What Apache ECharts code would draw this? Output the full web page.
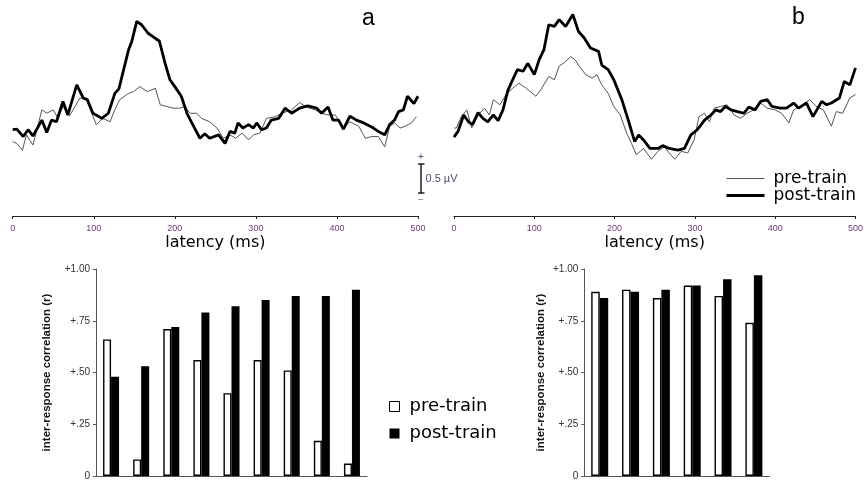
<!DOCTYPE html>
<html>
<head>
<meta charset="utf-8">
<style>html,body{margin:0;padding:0;background:#fff}#c{width:866px;height:481px}</style>
<script src="https://cdn.jsdelivr.net/npm/echarts@6/dist/echarts.min.js"></script>
</head>
<body>
<div id="c"></div>
<script>
// ---- waveform data: [latency ms, amplitude µV] ----
const aPre = [[0,1.31],[5,1.28],[12,1.16],[17,1.43],[25,1.25],[36,1.87],[42,1.81],[50,1.87],[56,1.72],[62,1.93],[70,1.76],[83,2.08],[91,2.05],[103,1.61],[111,1.72],[120,1.66],[126,1.87],[132,2.05],[143,2.16],[149,2.19],[157,2.28],[166,2.19],[176,2.25],[182,1.96],[190,1.93],[198,1.90],[206,1.90],[212,1.93],[219,1.81],[227,1.81],[233,1.72],[243,1.66],[252,1.55],[260,1.37],[268,1.43],[275,1.37],[283,1.46],[291,1.34],[297,1.43],[305,1.46],[313,1.72],[324,1.75],[332,1.81],[344,1.87],[354,2.00],[362,1.92],[373,1.87],[381,1.81],[389,1.78],[398,1.78],[408,1.55],[416,1.66],[427,1.58],[435,1.37],[443,1.40],[451,1.40],[459,1.22],[465,1.58],[471,1.64],[478,1.55],[484,1.58],[492,1.64],[498,1.75]];
const aPost = [[0,1.52],[5,1.53],[13,1.40],[19,1.52],[25,1.41],[36,1.69],[42,1.47],[48,1.69],[54,1.66],[62,2.02],[68,1.78],[79,2.31],[87,2.08],[92,2.05],[99,1.81],[110,1.72],[118,1.81],[126,2.16],[131,2.24],[143,2.93],[147,3.08],[153,3.43],[159,3.37],[167,3.22],[173,3.16],[178,3.11],[181,3.08],[188,2.69],[194,2.40],[200,2.28],[208,2.11],[215,1.81],[221,1.64],[231,1.37],[237,1.45],[243,1.37],[254,1.43],[262,1.28],[268,1.49],[274,1.46],[278,1.64],[284,1.55],[291,1.61],[297,1.55],[301,1.64],[307,1.52],[313,1.55],[319,1.69],[328,1.72],[336,1.90],[344,1.81],[354,1.90],[364,1.94],[375,1.90],[381,1.81],[389,1.92],[395,1.69],[402,1.69],[408,1.53],[416,1.76],[424,1.69],[433,1.64],[441,1.58],[445,1.55],[451,1.49],[459,1.43],[465,1.61],[471,1.69],[476,1.84],[482,1.87],[487,2.11],[495,1.98],[500,2.11]];
const bPre = [[0,1.55],[3,1.55],[9,1.75],[16,1.87],[22,1.55],[30,1.78],[38,1.90],[44,1.78],[49,2.05],[57,1.96],[65,2.14],[73,2.25],[81,2.34],[90,2.25],[102,2.11],[108,2.22],[118,2.46],[125,2.40],[131,2.64],[139,2.72],[145,2.81],[151,2.75],[155,2.66],[164,2.49],[172,2.43],[178,2.49],[184,2.31],[192,2.16],[199,1.93],[207,1.78],[215,1.46],[221,1.28],[227,1.08],[236,1.19],[246,1.00],[254,1.14],[262,1.22],[268,1.11],[275,1.00],[283,1.14],[291,1.11],[299,1.34],[305,1.75],[312,1.81],[318,1.66],[324,1.90],[332,1.93],[340,1.96],[349,1.78],[357,1.72],[365,1.81],[373,1.87],[382,1.99],[390,1.90],[400,1.87],[408,1.81],[417,1.64],[423,1.87],[431,1.93],[437,1.99],[443,2.05],[451,1.93],[460,1.87],[470,1.58],[476,1.84],[484,1.81],[493,2.08],[500,2.14]];
const bPost = [[0,1.39],[5,1.49],[12,1.78],[18,1.66],[23,1.61],[30,1.82],[36,1.72],[42,1.66],[49,1.78],[55,1.68],[61,1.87],[67,2.21],[73,2.40],[79,2.58],[86,2.55],[92,2.69],[100,2.49],[106,2.75],[112,2.93],[118,3.37],[125,3.34],[131,3.46],[139,3.34],[148,3.55],[155,3.25],[162,3.14],[170,2.96],[180,2.90],[184,2.66],[192,2.58],[199,2.40],[209,2.05],[217,1.69],[225,1.31],[230,1.43],[236,1.34],[244,1.19],[254,1.19],[260,1.24],[268,1.19],[279,1.16],[287,1.19],[295,1.43],[303,1.52],[312,1.69],[320,1.78],[326,1.87],[332,1.84],[338,1.93],[345,1.87],[353,1.84],[361,1.81],[367,1.92],[375,1.87],[382,2.02],[390,2.05],[396,1.93],[406,1.90],[414,1.90],[423,1.99],[429,1.90],[439,1.99],[447,1.75],[458,2.02],[464,1.96],[470,1.99],[480,2.08],[486,2.37],[493,2.31],[500,2.61]];

// ---- correlation bars ----
const leftCats = ['1','2','3','4','5','6','7','8','9'];
const leftPre  = [0.66, 0.08, 0.71, 0.56, 0.40, 0.56, 0.51, 0.17, 0.06];
const leftPost = [0.48, 0.53, 0.72, 0.79, 0.82, 0.85, 0.87, 0.87, 0.90];
const rightCats = ['1','2','3','4','5','6'];
const rightPre  = [0.89, 0.90, 0.86, 0.92, 0.87, 0.74];
const rightPost = [0.86, 0.89, 0.90, 0.92, 0.95, 0.97];
const latencyTicks = [0, 100, 200, 300, 400, 500];

const chart = echarts.init(document.getElementById('c'), null, {renderer: 'canvas'});

const xTop = (gi) => ({
  type: 'value', gridIndex: gi, min: latencyTicks[0], max: latencyTicks[latencyTicks.length-1], interval: 100,
  name: 'latency (ms)', nameLocation: 'middle', nameGap: 19,
  nameTextStyle: {fontFamily: 'DejaVu Sans', fontSize: 16, color: '#000'},
  axisLine: {show: true, onZero: false, lineStyle: {color: '#222', width: 1}},
  axisTick: {show: true, length: 3, lineStyle: {color: '#222'}},
  axisLabel: {fontFamily: 'Liberation Sans', fontSize: 9, color: '#6b3a7a', margin: 8},
  splitLine: {show: false}
});
const yTop = (gi) => ({type: 'value', gridIndex: gi, min: 0, max: 3.7, show: false, splitLine: {show: false}});

const yFmt = v => v === 0 ? '0' : '+' + v.toFixed(2).replace(/^0/, '');
const xBar = (gi, cats) => ({
  type: 'category', gridIndex: gi, data: cats,
  axisLine: {show: true, lineStyle: {color: '#555', width: 1}},
  axisTick: {show: false}, axisLabel: {show: false}
});
const yBar = (gi, gap) => ({
  type: 'value', gridIndex: gi, min: 0, max: 1, interval: 0.25,
  name: 'inter-response correlation (r)', nameLocation: 'middle', nameGap: gap,
  nameTextStyle: {fontFamily: 'Liberation Sans', fontSize: 11.5, fontWeight: 'bold', color: '#111'},
  axisLine: {show: true, lineStyle: {color: '#555', width: 1}},
  axisTick: {show: true, length: 3, lineStyle: {color: '#555'}},
  axisLabel: {fontFamily: 'Liberation Sans', fontSize: 10, color: '#333', margin: 6, formatter: yFmt},
  splitLine: {show: false}
});

const preLine = {color: '#555', width: 1};
const postLine = {color: '#000', width: 2.8};

chart.setOption({
  animation: false,
  backgroundColor: '#fff',
  grid: [
    {left: 12.7, top: 6, width: 405.3, height: 210},
    {left: 454, top: 6, width: 405.3, height: 210},
    {left: 96, top: 269, width: 271, height: 208},
    {left: 584.3, top: 269, width: 185, height: 208}
  ],
  xAxis: [xTop(0), xTop(1), xBar(2, leftCats), xBar(3, rightCats)],
  yAxis: [yTop(0), yTop(1), yBar(2, 43), yBar(3, 37)],
  legend: [
    {
      left: 725, top: 170, orient: 'vertical', selectedMode: false, padding: 0,
      itemWidth: 38, itemHeight: 12, itemGap: 0,
      textStyle: {fontFamily: 'DejaVu Sans', fontSize: 17, color: '#000', padding: [0,0,0,4]},
      data: [
        {name: 'pre-train', lineStyle: {width: 1, color: '#555'}, itemStyle: {opacity: 0}},
        {name: 'post-train', lineStyle: {width: 3, color: '#000'}, itemStyle: {opacity: 0}}
      ]
    },
    {
      left: 389, top: 397, orient: 'vertical', selectedMode: false, padding: 0,
      itemWidth: 10, itemHeight: 10, itemGap: 8, icon: 'rect',
      textStyle: {fontFamily: 'DejaVu Sans', fontSize: 18, color: '#000', lineHeight: 19, padding: [0,0,0,5]},
      data: [
        {name: 'pre-train', icon: 'rect', itemStyle: {color: '#fff', borderColor: '#000', borderWidth: 1}},
        {name: 'post-train', icon: 'rect', itemStyle: {color: '#000', borderColor: '#000', borderWidth: 0}}
      ]
    }
  ],
  graphic: [
    {type: 'text', left: 362, top: 7, style: {text: 'a', font: '23px "Liberation Sans"', fill: '#000'}},
    {type: 'text', left: 792, top: 6, style: {text: 'b', font: '23px "Liberation Sans"', fill: '#000'}},
    {type: 'line', shape: {x1: 421, y1: 164, x2: 421, y2: 193}, style: {stroke: '#000', lineWidth: 1.3}},
    {type: 'line', shape: {x1: 418, y1: 164, x2: 424.5, y2: 164}, style: {stroke: '#000', lineWidth: 1.3}},
    {type: 'line', shape: {x1: 418, y1: 193, x2: 424.5, y2: 193}, style: {stroke: '#000', lineWidth: 1.3}},
    {type: 'text', x: 421, y: 157, style: {text: '+', font: '10px "Liberation Sans"', fill: '#6b3a7a', align: 'center', verticalAlign: 'middle'}},
    {type: 'text', x: 421, y: 200, style: {text: '\u2212', font: '10px "Liberation Sans"', fill: '#777', align: 'center', verticalAlign: 'middle'}},
    {type: 'text', x: 425.5, y: 179, style: {text: '0.5 \u00b5V', font: '11px "Liberation Sans"', fill: '#5a4a6a', align: 'left', verticalAlign: 'middle'}}
  ],
  series: [
    {name: 'pre-train', type: 'line', xAxisIndex: 0, yAxisIndex: 0, data: aPre, symbol: 'none', color: '#555', lineStyle: preLine, z: 2},
    {name: 'post-train', type: 'line', xAxisIndex: 0, yAxisIndex: 0, data: aPost, symbol: 'none', color: '#000', lineStyle: postLine, z: 3},
    {name: 'pre-train', type: 'line', xAxisIndex: 1, yAxisIndex: 1, data: bPre, symbol: 'none', color: '#555', lineStyle: preLine, z: 2},
    {name: 'post-train', type: 'line', xAxisIndex: 1, yAxisIndex: 1, data: bPost, symbol: 'none', color: '#000', lineStyle: postLine, z: 3},
    {name: 'pre-train', type: 'bar', xAxisIndex: 2, yAxisIndex: 2, data: leftPre, barWidth: 8, barGap: '0%',
     itemStyle: {color: '#fff', borderColor: '#000', borderWidth: 1.4}},
    {name: 'post-train', type: 'bar', xAxisIndex: 2, yAxisIndex: 2, data: leftPost, barWidth: 8, barGap: '0%',
     itemStyle: {color: '#000', borderColor: '#000', borderWidth: 0}},
    {name: 'pre-train', type: 'bar', xAxisIndex: 3, yAxisIndex: 3, data: rightPre, barWidth: 8.5, barGap: '0%',
     itemStyle: {color: '#fff', borderColor: '#000', borderWidth: 1.4}},
    {name: 'post-train', type: 'bar', xAxisIndex: 3, yAxisIndex: 3, data: rightPost, barWidth: 8.5, barGap: '0%',
     itemStyle: {color: '#000', borderColor: '#000', borderWidth: 0}}
  ]
});
</script>
</body>
</html>
